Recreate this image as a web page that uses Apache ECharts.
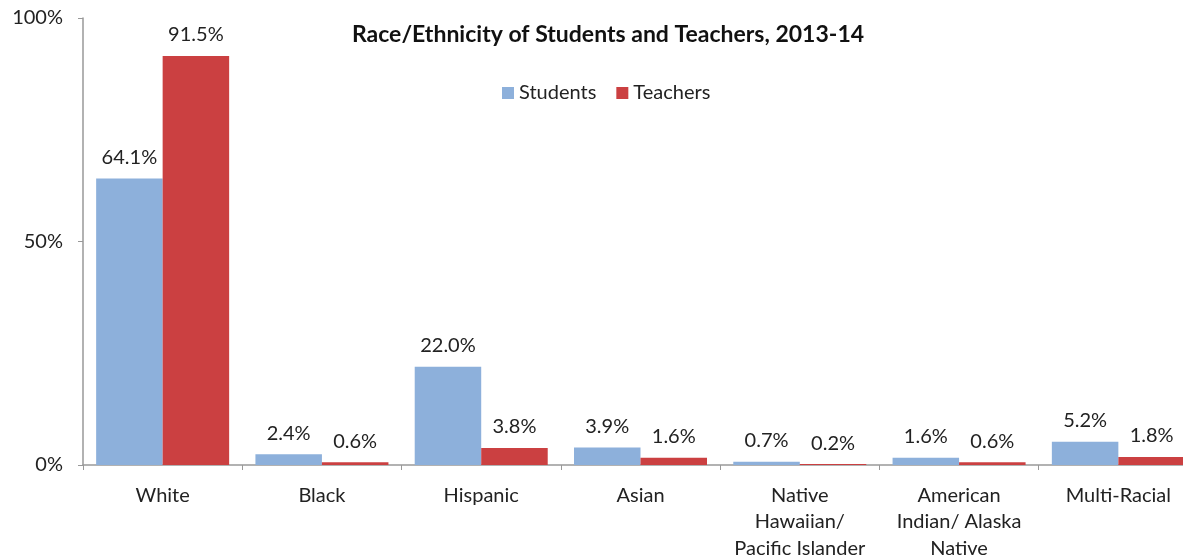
<!DOCTYPE html>
<html><head><meta charset="utf-8">
<script src="https://cdn.jsdelivr.net/npm/echarts@6/dist/echarts.min.js"></script>
<style>html,body{margin:0;padding:0;background:#fff}#c{width:1183px;height:560px}</style>
</head><body><div id="c"></div>
<script>
var categories = ['White', 'Black', 'Hispanic', 'Asian', 'Native\nHawaiian/\nPacific Islander', 'American\nIndian/ Alaska\nNative', 'Multi-Racial'];
var students = [64.1, 2.4, 22.0, 3.9, 0.7, 1.6, 5.2];
var teachers = [91.5, 0.6, 3.8, 1.6, 0.2, 0.6, 1.8];
var yTicks = [0, 50, 100];

var font = 'Lato, "Open Sans", sans-serif';
var chart = echarts.init(document.getElementById('c'));
var lbl = {show: true, position: 'top', distance: 11, color: '#222', fontSize: 20, fontFamily: font,
  formatter: function(p){ return p.value.toFixed(1) + '%'; }};
chart.setOption({
  animation: false,
  title: {text: 'Race/Ethnicity of Students and Teachers, 2013-14', left: 603, top: 18, textAlign: 'center',
    textStyle: {fontSize: 23, fontWeight: 'bold', color: '#111', fontFamily: font}},
  legend: {top: 78, left: 497, itemWidth: 12, itemHeight: 12, itemGap: 20, icon: 'rect',
    textStyle: {fontSize: 20, color: '#222', fontFamily: font}, data: ['Students', 'Teachers']},
  grid: {left: 83, width: 1115, top: 18, height: 447, containLabel: false, outerBoundsMode: 'none'},
  xAxis: {type: 'category', data: categories,
    axisLine: {lineStyle: {color: '#999', width: 1.5}},
    axisTick: {show: true, length: 5, lineStyle: {color: '#999'}},
    axisLabel: {fontSize: 20, color: '#222', fontFamily: font, lineHeight: 26.5, margin: 17, interval: 0}},
  yAxis: {type: 'value', min: yTicks[0], max: yTicks[yTicks.length - 1], interval: 50,
    splitLine: {show: false},
    axisLine: {show: true, lineStyle: {color: '#999', width: 1.5}},
    axisTick: {show: true, length: 5, lineStyle: {color: '#999'}},
    axisLabel: {fontSize: 20, color: '#222', fontFamily: font, margin: 20, formatter: '{value}%'}},
  series: [
    {name: 'Students', type: 'bar', data: students, barGap: '0%', barCategoryGap: '16.5%',
      itemStyle: {color: '#8DB0DB'}, label: lbl},
    {name: 'Teachers', type: 'bar', data: teachers,
      itemStyle: {color: '#CB4041'}, label: lbl}
  ]
});
</script></body></html>
